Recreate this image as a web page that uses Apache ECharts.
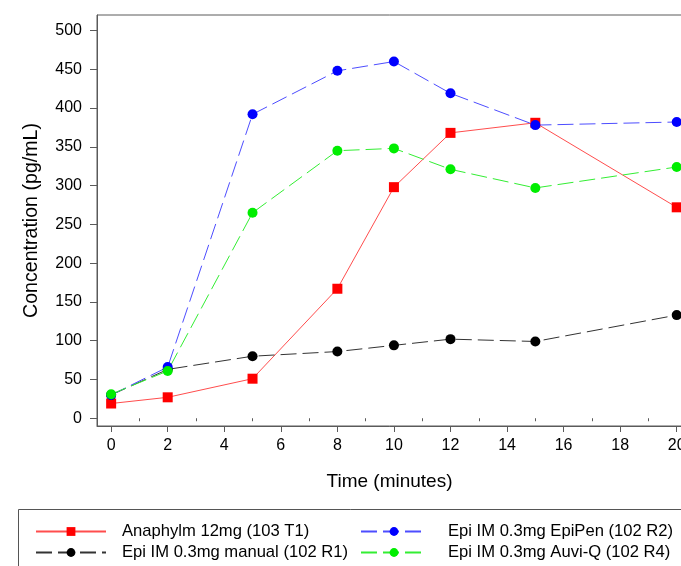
<!DOCTYPE html>
<html>
<head>
<meta charset="utf-8">
<script src="https://cdn.jsdelivr.net/npm/echarts@6/dist/echarts.min.js"></script>
<style>
  html, body { margin: 0; padding: 0; background: #ffffff; }
  #chart { width: 681px; height: 566px; }
</style>
</head>
<body>
<div id="chart"></div>
<script>
// Sampling times (minutes)
var times = [0, 2, 5, 8, 10, 12, 15, 20];

// Plasma epinephrine concentration (pg/mL)
var anaphylm = [19, 27, 51, 167, 298, 368, 381, 272];
var epiManual = [30, 63, 80, 86, 94, 102, 99, 133];
var epiPen = [30, 66, 392, 448, 460, 419, 378, 382];
var auviQ = [31, 61, 265, 345, 348, 321, 297, 324];

var seriesNames = [
  'Anaphylm 12mg (103 T1)',
  'Epi IM 0.3mg manual (102 R1)',
  'Epi IM 0.3mg EpiPen (102 R2)',
  'Epi IM 0.3mg Auvi-Q (102 R4)'
];

// Tick labels
var xMajorTicks = [0, 2, 4, 6, 8, 10, 12, 14, 16, 18, 20];
var xMinorTicks = [1, 3, 5, 7, 9, 11, 13, 15, 17, 19, 21];
var yTicks = [0, 50, 100, 150, 200, 250, 300, 350, 400, 450, 500];

function pairs(values) {
  return times.map(function (t, i) { return [t, values[i]]; });
}

var FONT = '"Liberation Sans", Arial, sans-serif';
var AXIS_COLOR = '#5a5a5a';

function makeSeries(name, values, symbol, markerColor, lineColor, lineType) {
  return {
    name: name,
    type: 'line',
    data: pairs(values),
    symbol: symbol,
    symbolSize: 10,
    showAllSymbol: true,
    animation: false,
    itemStyle: { color: markerColor, borderWidth: 0 },
    lineStyle: { color: lineColor, width: 1, type: lineType },
    emphasis: { disabled: true }
  };
}

function legendBlock(left, itemWidth, textPad, names) {
  return {
    orient: 'vertical', left: left, top: 523, height: 42,
    itemGap: 4, itemWidth: itemWidth, itemHeight: 11,
    padding: 0,
    data: names,
    textStyle: { fontFamily: FONT, fontSize: 16.6, lineHeight: 14, color: '#000', padding: [0, 0, 0, textPad] },
    selectedMode: false
  };
}

var chart = echarts.init(document.getElementById('chart'), null, { renderer: 'canvas' });

chart.setOption({
  backgroundColor: '#ffffff',
  animation: false,
  grid: {
    left: 97, top: 15, height: 411, width: 608,
    outerBoundsMode: 'none',
    show: true, borderColor: AXIS_COLOR, borderWidth: 1, backgroundColor: 'transparent'
  },
  xAxis: [
    {
      type: 'value', min: -0.5, max: 21, position: 'bottom',
      name: 'Time (minutes)', nameLocation: 'middle', nameGap: 46,
      nameTextStyle: { fontFamily: FONT, fontSize: 19, color: '#000', padding: [0, 23, 0, 0] },
      axisLine: { show: true, onZero: false, lineStyle: { color: AXIS_COLOR, width: 1 } },
      axisTick: { show: true, length: 6, customValues: xMajorTicks, lineStyle: { color: AXIS_COLOR } },
      axisLabel: { customValues: xMajorTicks, margin: 12, fontFamily: FONT, fontSize: 16, color: '#000' },
      splitLine: { show: false }
    },
    {
      type: 'value', min: -0.5, max: 21, position: 'bottom', offset: 0,
      axisLine: { show: false },
      axisTick: { show: true, length: 3, customValues: xMinorTicks, lineStyle: { color: AXIS_COLOR } },
      axisLabel: { show: false },
      splitLine: { show: false }
    }
  ],
  yAxis: {
    type: 'value', min: -10, max: 520,
    name: 'Concentration (pg/mL)', nameLocation: 'middle', nameGap: 55, nameRotate: 90,
    nameTextStyle: { fontFamily: FONT, fontSize: 19.6, color: '#000' },
    axisLine: { show: true, onZero: false, lineStyle: { color: AXIS_COLOR, width: 1 } },
    axisTick: { show: true, length: 7, customValues: yTicks, lineStyle: { color: AXIS_COLOR } },
    axisLabel: { customValues: yTicks, margin: 15, fontFamily: FONT, fontSize: 16, color: '#000' },
    splitLine: { show: false }
  },
  legend: [
    legendBlock(35, 70, 11, [seriesNames[0], seriesNames[1]]),
    legendBlock(360, 66, 16, [seriesNames[2], seriesNames[3]])
  ],
  graphic: [
    {
      type: 'rect', silent: true,
      shape: { x: 18.5, y: 509.5, width: 720, height: 100 },
      style: { fill: 'none', stroke: '#555555', lineWidth: 1 }
    }
  ],
  series: [
    makeSeries(seriesNames[0], anaphylm, 'rect', '#ff0000', '#ff4d4d', 'solid'),
    makeSeries(seriesNames[1], epiManual, 'circle', '#000000', '#333333', [16, 6]),
    makeSeries(seriesNames[2], epiPen, 'circle', '#0000ff', '#4d4dff', [16, 6]),
    makeSeries(seriesNames[3], auviQ, 'circle', '#00ee00', '#33ee33', [16, 6])
  ]
});
</script>
</body>
</html>
